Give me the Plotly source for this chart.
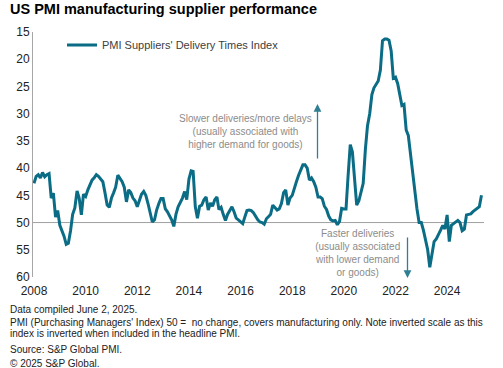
import pandas as pd
import plotly.graph_objects as go

# Monthly index values, Jan 2008 - May 2025
values = [
    42.8, 41.5, 41.2, 41.8, 40.8, 41.6, 41.2, 41.0, 45.5, 44.6, 49.0, 47.8,   # 2008
    50.5, 51.5, 52.5, 54.0, 53.8, 51.5, 48.5, 47.3, 44.2, 45.5, 48.6, 44.8,   # 2009
    45.2, 44.0, 43.0, 42.2, 41.8, 41.2, 41.5, 42.0, 42.5, 44.5, 46.8, 47.2,   # 2010
    45.5, 44.5, 43.5, 41.3, 41.8, 42.5, 43.5, 46.2, 44.0, 44.5, 45.5, 46.0,   # 2011
    47.1, 45.8, 44.8, 44.3, 45.0, 46.5, 48.5, 49.9, 49.5, 47.7, 46.5, 45.6,   # 2012
    45.6, 47.5, 48.0, 48.8, 49.5, 50.7, 48.5, 47.1, 46.3, 45.5, 44.3, 45.8,   # 2013
    42.0, 40.5, 40.6, 47.1, 49.2, 47.0, 46.8, 45.8, 45.3, 47.7, 46.4, 47.0,   # 2014
    45.8, 45.3, 47.6, 47.2, 48.5, 49.6, 48.5, 47.7, 47.1, 48.0, 49.2, 49.5,   # 2015
    49.8, 50.2, 49.0, 47.8, 47.7, 47.8, 48.2, 48.9, 49.5, 49.9, 50.0, 50.3,   # 2016
    49.3, 48.9, 48.5, 46.8, 47.3, 47.7, 47.5, 46.5, 44.5, 44.0, 46.8, 45.5,   # 2017
    45.0, 43.5, 42.5, 41.3, 40.2, 39.4, 39.4, 40.0, 42.2, 41.8, 42.5, 43.5,   # 2018
    45.3, 45.3, 45.6, 47.0, 47.6, 48.8, 49.5, 49.7, 49.6, 50.4, 49.8, 47.4,   # 2019
    47.5, 47.5, 41.5, 35.7, 37.0, 42.0, 46.8, 46.0, 44.5, 42.8, 36.5, 32.2,   # 2020
    30.0, 26.5, 25.3, 24.7, 24.0, 22.0, 16.6, 16.3, 16.3, 16.5, 18.5, 23.5,   # 2021
    23.3, 24.5, 26.8, 28.5, 28.3, 33.0, 34.0, 37.5, 41.5, 44.5, 47.5, 50.0,   # 2022
    50.0, 51.5, 53.0, 55.0, 58.2, 55.5, 53.5, 53.0, 52.3, 51.4, 50.5, 51.2,   # 2023
    48.6, 53.5, 50.5, 50.2, 50.0, 49.6, 50.0, 51.5, 51.2, 48.6, 48.5, 48.4,   # 2024
    48.0, 47.7, 47.3, 47.1, 45.0,                                             # 2025
]
dates = pd.date_range("2008-01-01", periods=len(values), freq="MS")

series_name = "PMI Suppliers' Delivery Times Index"
y_ticks = [15, 20, 25, 30, 35, 40, 45, 50, 55, 60]
x_ticks = ["2008", "2010", "2012", "2014", "2016", "2018", "2020", "2022", "2024"]

title_text = "US PMI manufacturing supplier performance"
slower_text = "Slower deliveries/more delays<br>(usually associated with<br>higher demand for goods)"
faster_text = "Faster deliveries<br>(usually associated<br>with lower demand<br>or goods)"
foot_lines = [
    "Data compiled June 2, 2025.",
    "PMI (Purchasing Managers' Index) 50 =  no change, covers manufacturing only. Note inverted scale as this",
    "index is inverted when included in the headline PMI.",
    "Source: S&P Global PMI.",
    "© 2025 S&P Global.",
]

TEAL = "#0b6c86"
FONT = "Liberation Sans, Arial, sans-serif"

W, H = 503, 368
L, T = 33, 32
R = W - 485
B = H - 277
PW, PH = W - L - R, H - T - B


def px(xp):
    return (xp - L) / PW


def py(yp):
    return (H - B - yp) / PH


fig = go.Figure()
fig.add_trace(go.Scatter(x=dates, y=values, mode="lines", name=series_name,
                         line=dict(color=TEAL, width=3)))

fig.update_layout(
    width=W, height=H,
    margin=dict(l=L, r=R, t=T, b=B),
    paper_bgcolor="white", plot_bgcolor="white",
    font=dict(family=FONT, color="#333333", size=12),
    showlegend=True,
    legend=dict(x=px(62), y=py(45), xanchor="left", yanchor="middle",
                bgcolor="rgba(0,0,0,0)", font=dict(size=11, color="#404040")),
    xaxis=dict(range=["2007-12-18", "2025-06-20"], showgrid=False, zeroline=False,
               showline=False, ticks="", ticklabelstandoff=5,
               tickvals=[f"{t}-01-01" for t in x_ticks], ticktext=x_ticks,
               tickfont=dict(size=12, color="#222222")),
    yaxis=dict(range=[60, 15], autorange=False, tickvals=y_ticks,
               showgrid=False, zeroline=False, showline=True,
               linecolor="#a6a6a6", linewidth=1, ticks="",
               tickfont=dict(size=12, color="#222222")),
)

fig.add_shape(type="line", xref="paper", yref="y", x0=0, x1=px(484), y0=50, y1=50,
              line=dict(color="#a0a0a0", width=1), layer="below")

ann = []
ann.append(dict(text="<b>" + title_text + "</b>", x=px(8), y=py(9), xref="paper", yref="paper",
                xanchor="left", yanchor="middle", showarrow=False,
                font=dict(size=14.5, color="#000000")))
ann.append(dict(text=slower_text, x=px(245), y=py(131), xref="paper", yref="paper",
                xanchor="center", yanchor="middle", showarrow=False,
                font=dict(size=10, color="#8c8c8c")))
ann.append(dict(text=faster_text, x=px(357), y=py(253), xref="paper", yref="paper",
                xanchor="center", yanchor="middle", showarrow=False,
                font=dict(size=10, color="#8c8c8c")))
# arrows
ann.append(dict(text="", x=px(317.5), y=py(104), xref="paper", yref="paper",
                ax=0, ay=56, showarrow=True, arrowhead=2, arrowsize=1.2,
                arrowwidth=1.3, arrowcolor="#2f7f93"))
ann.append(dict(text="", x=px(407.5), y=py(278), xref="paper", yref="paper",
                ax=0, ay=-42, showarrow=True, arrowhead=2, arrowsize=1.2,
                arrowwidth=1.3, arrowcolor="#2f7f93"))
foot_y = [309, 322, 333, 349, 363]
for t, yy in zip(foot_lines, foot_y):
    ann.append(dict(text=t, x=px(8), y=py(yy), xref="paper", yref="paper",
                    xanchor="left", yanchor="middle", showarrow=False,
                    font=dict(size=10, color="#222222")))
fig.update_layout(annotations=ann)

# remove the browser's default 8px page margin so the figure fills the window
fig.write_html("out.html", config={"displayModeBar": False},
               post_script="document.body.style.margin='0px';document.body.style.overflow='hidden';")
